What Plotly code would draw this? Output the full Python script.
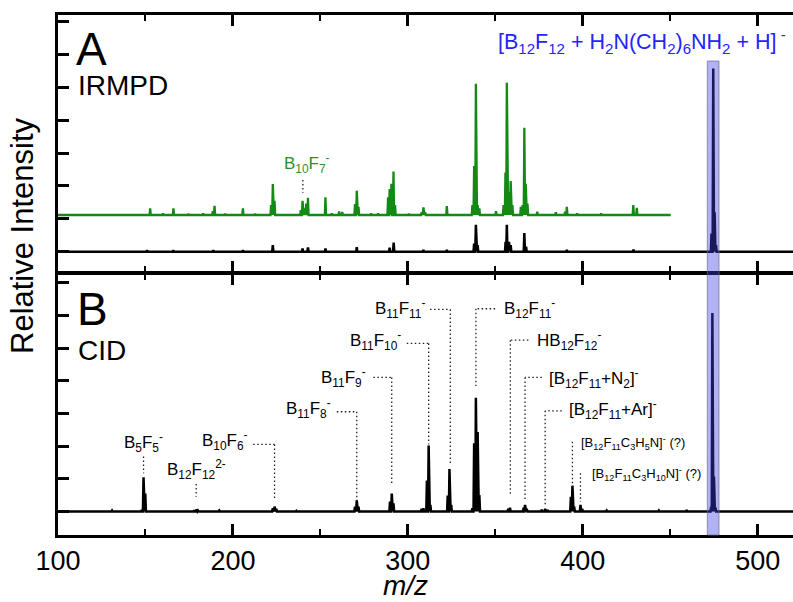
import plotly.graph_objects as go

# ---------------- data (m/z, relative intensity) ----------------
# Panel A, IRMPD: green trace (heights above its offset baseline)
irmpd_mz = [152.7, 160.0, 166.0, 174.6, 183.0, 188.5, 189.5, 195.6, 205.7, 212.7,
            221.8, 222.8, 223.8, 238.8, 239.8, 240.8, 241.9, 242.9, 252.9, 256.5,
            260.7, 262.5, 269.8, 270.8, 271.8, 279.0, 283.0, 288.7, 289.6, 290.6,
            291.8, 292.7, 300.6, 307.9, 308.9, 309.9, 322.3, 336.9, 337.9, 338.9,
            339.9, 340.9, 350.4, 354.7, 355.8, 356.6, 357.7, 358.8, 359.8, 364.6,
            365.6, 366.6, 367.4, 368.4, 374.0, 384.6, 389.9, 390.9, 396.8, 410.5,
            428.9, 430.9]
irmpd_int = [0.20, 0.05, 0.20, 0.04, 0.05, 0.12, 0.28, 0.04, 0.20, 0.04,
             0.30, 0.94, 0.43, 0.15, 0.43, 0.20, 0.35, 0.52, 0.54, 0.05,
             0.11, 0.09, 0.33, 0.74, 0.25, 0.05, 0.05, 0.54, 0.79, 0.95,
             1.32, 0.30, 0.04, 0.08, 0.23, 0.08, 0.27, 0.30, 1.49, 3.99,
             0.30, 0.20, 0.12, 0.30, 1.29, 4.02, 0.70, 1.03, 0.30, 0.25,
             0.30, 2.65, 0.95, 0.35, 0.10, 0.08, 0.10, 0.25, 0.05, 0.05,
             0.30, 0.22]
irmpd_offset = 1.115

# Panel A, black trace (precursor-normalised)
parentA_mz = [150.9, 165.9, 188.8, 205.7, 222.8, 239.8, 242.9, 252.9, 270.8, 289.6,
              291.9, 308.9, 322.3, 337.9, 338.9, 339.9, 355.9, 356.6, 357.8, 358.8,
              366.6, 367.6, 390.9, 429.0, 473.6, 474.6, 475.4, 476.2]
parentA_int = [0.04, 0.04, 0.04, 0.04, 0.20, 0.10, 0.13, 0.10, 0.14, 0.12,
               0.28, 0.05, 0.05, 0.25, 0.82, 0.20, 0.30, 0.82, 0.30, 0.20,
               0.57, 0.15, 0.05, 0.06, 0.55, 5.57, 1.20, 0.20]

# Panel B, CID
cid_mz = [130.9, 147.9, 148.9, 149.9, 177.8, 179.0, 180.0, 192.2, 222.8, 223.8,
          224.8, 236.3, 249.5, 269.8, 270.8, 271.8, 289.8, 290.8, 291.8, 307.9,
          308.9, 310.9, 311.9, 312.9, 322.8, 323.8, 324.8, 336.9, 337.9, 338.9,
          339.9, 340.9, 357.4, 358.4, 366.2, 367.0, 368.0, 376.5, 378.5, 380.0,
          393.2, 394.1, 395.1, 398.7, 399.7, 413.7, 428.0, 443.5, 459.4, 473.4,
          474.1, 475.0, 475.9]
cid_int = [0.03, 0.05, 1.05, 0.55, 0.04, 0.06, 0.03, 0.03, 0.10, 0.15,
           0.08, 0.02, 0.02, 0.15, 0.34, 0.15, 0.30, 0.55, 0.25, 0.08,
           0.10, 0.95, 2.02, 0.20, 0.49, 1.30, 0.20, 0.10, 2.09, 3.48,
           2.43, 0.50, 0.08, 0.12, 0.12, 0.20, 0.08, 0.06, 0.08, 0.05,
           0.45, 0.79, 0.15, 0.20, 0.08, 0.03, 0.02, 0.03, 0.05, 0.15,
           6.07, 1.07, 0.12]

# Peak assignments in panel B
cid_labels = ["B<sub>5</sub>F<sub>5</sub><sup>-</sup>",
              "B<sub>12</sub>F<sub>12</sub><sup>2-</sup>",
              "B<sub>10</sub>F<sub>6</sub><sup>-</sup>",
              "B<sub>11</sub>F<sub>8</sub><sup>-</sup>",
              "B<sub>11</sub>F<sub>9</sub><sup>-</sup>",
              "B<sub>11</sub>F<sub>10</sub><sup>-</sup>",
              "B<sub>11</sub>F<sub>11</sub><sup>-</sup>",
              "B<sub>12</sub>F<sub>11</sub><sup>-</sup>",
              "HB<sub>12</sub>F<sub>12</sub><sup>-</sup>",
              "[B<sub>12</sub>F<sub>11</sub>+N<sub>2</sub>]<sup>-</sup>",
              "[B<sub>12</sub>F<sub>11</sub>+Ar]<sup>-</sup>",
              "[B<sub>12</sub>F<sub>11</sub>C<sub>3</sub>H<sub>5</sub>N]<sup>-</sup> (?)",
              "[B<sub>12</sub>F<sub>11</sub>C<sub>3</sub>H<sub>10</sub>N]<sup>-</sup> (?)"]
cid_label_peak = [148.9, 179.0, 223.8, 270.8, 290.8, 311.9, 324.3, 338.9, 358.6,
                  367.0, 378.5, 394.1, 398.7]

irmpd_label = "B<sub>10</sub>F<sub>7</sub><sup>-</sup>"
irmpd_label_peak = 240.0
precursor_label = "[B<sub>12</sub>F<sub>12</sub> + H<sub>2</sub>N(CH<sub>2</sub>)<sub>6</sub>NH<sub>2</sub> + H]<sup> -</sup>"
precursor_window = [471.2, 477.9]

x_tick_step = 100
x_minor_step = 50

# ---------------- layout helpers ----------------
XMIN, XMAX = 100, 520.2
W, H = 793, 602
ML, MT, MB = 58, 15, 67
PW, PH = W - ML, H - MT - MB
FONT = "Liberation Sans, Arial, sans-serif"


def px_x(px):
    return (px - ML) / PW


def px_y(py):
    return (H - MB - py) / PH


def profile(mz, inten, base, xend, hw=0.35):
    xs, ys = [XMIN], [base]
    for m, v in sorted(zip(mz, inten)):
        xs += [m - hw, m, m + hw]
        ys += [base, base + v, base]
    xs.append(xend)
    ys.append(base)
    return xs, ys


fig = go.Figure()

gx, gy = profile(irmpd_mz, irmpd_int, irmpd_offset, 450.3)
fig.add_trace(go.Scatter(x=gx, y=gy, mode="lines", line=dict(color="#138a13", width=2.3),
                         xaxis="x", yaxis="y", hoverinfo="skip"))
ax_, ay_ = profile(parentA_mz, parentA_int, 0, XMAX)
fig.add_trace(go.Scatter(x=ax_, y=ay_, mode="lines", line=dict(color="black", width=2.5),
                         xaxis="x", yaxis="y", hoverinfo="skip"))
bx, by = profile(cid_mz, cid_int, 0, XMAX)
fig.add_trace(go.Scatter(x=bx, y=by, mode="lines", line=dict(color="black", width=2.5),
                         xaxis="x2", yaxis="y2", hoverinfo="skip"))

# panel A bottom spine is drawn below its domain, panel B top spine above its
# domain: place them so that both lines coincide around y = 273 px
A_bottom_px, B_top_px = 271.75, 274.25
rangeA = [-(A_bottom_px - 251.7) / 32.9, (251.7 - MT) / 32.9]
rangeB = [-(535 - 511.5) / 32.7, (511.5 - B_top_px) / 32.7]

xcommon = dict(range=[XMIN, XMAX], showgrid=False, zeroline=False, showline=True,
               linecolor="black", linewidth=2.5, mirror="ticks", ticks="inside",
               ticklen=11, tickwidth=2.5, tickcolor="black", tickmode="linear",
               tick0=0, dtick=x_tick_step,
               minor=dict(tickmode="linear", tick0=0, dtick=x_minor_step, ticks="inside",
                          ticklen=6, tickwidth=2, tickcolor="black"))
ycommon = dict(showgrid=False, zeroline=False, showline=True, linecolor="black",
               linewidth=2.5, mirror=False, ticks="inside", ticklen=11, tickwidth=2.5,
               tickcolor="black", tickmode="linear", tick0=0, dtick=1,
               showticklabels=False)
yright = dict(showgrid=False, zeroline=False, showline=False, side="right", ticks="inside",
              ticklen=3, tickwidth=3, tickcolor="black", tickmode="linear", tick0=0,
              dtick=2, showticklabels=False)

fig.update_layout(
    width=W, height=H, margin=dict(l=ML, r=0, t=MT, b=MB),
    paper_bgcolor="white", plot_bgcolor="white", showlegend=False,
    font=dict(family=FONT, color="black"),
    xaxis=dict(**xcommon, domain=[0, 1], anchor="y", showticklabels=False),
    yaxis=dict(**ycommon, domain=[px_y(A_bottom_px), 1], anchor="x", range=rangeA),
    xaxis2=dict(**xcommon, domain=[0, 1], anchor="y2", showticklabels=True,
                tickfont=dict(size=27, family=FONT)),
    yaxis2=dict(**ycommon, domain=[0, px_y(B_top_px)], anchor="x2", range=rangeB),
    yaxis3=dict(**yright, overlaying="y", anchor="x", range=rangeA),
    yaxis4=dict(**yright, overlaying="y2", anchor="x2", range=rangeB),
)

shapes = []
annos = []
DOT = "1.5px,2.5px"


def dline(x0, y0, x1, y1, xr="x2", yr="y2"):
    shapes.append(dict(type="line", xref=xr, yref=yr, x0=x0, y0=y0, x1=x1, y1=y1,
                       line=dict(color="#222", width=1.3, dash=DOT)))


def label(text, x, y, anchor, size=17, xr="x2", yr="y2", color="black"):
    annos.append(dict(text=text, x=x, y=y, xref=xr, yref=yr, xanchor=anchor,
                      yanchor="middle", showarrow=False,
                      font=dict(size=size, family=FONT, color=color)))


# label placements: (text x, text y, anchor, elbow x, elbow y, leader end y, text size)
place = [
    (148.9, 2.11, "center", None, 1.68, 1.17, 17),
    (179.4, 1.27, "center", None, 0.84, 0.45, 17),
    (210.0, 2.16, "right", 211.6, 2.05, 0.40, 17),
    (257.5, 3.16, "right", 259.4, 3.05, 0.27, 17),
    (277.5, 4.10, "right", 280.3, 4.10, 0.86, 17),
    (297.5, 5.24, "right", 299.4, 5.14, 2.05, 17),
    (310.9, 6.21, "right", 312.7, 6.18, 1.47, 17),
    (353.7, 6.22, "left", 349.9, 6.20, 3.84, 17),
    (372.7, 5.22, "left", 368.9, 5.24, 0.47, 17),
    (379.4, 4.08, "left", 376.6, 4.10, 0.35, 17),
    (390.9, 3.11, "left", 388.0, 3.08, 0.15, 17),
    (398.1, 2.09, "left", None, 2.13, 0.76, 13),
    (404.1, 1.15, "left", None, 1.17, 0.30, 13),
]
for text, pk, (tx, ty, anc, hx, ey, by_, fs) in zip(cid_labels, cid_label_peak, place):
    label(text, tx, ty, anc, size=fs)
    if hx is not None:
        dline(hx, ey, pk, ey)
    dline(pk, ey, pk, by_)

# IRMPD label
label(irmpd_label, 242.3, 2.67, "center", xr="x", yr="y", color="#2a922a")
dline(irmpd_label_peak, 2.18, irmpd_label_peak, 1.79, xr="x", yr="y")

# precursor window
shapes.append(dict(type="rect", xref="x", yref="paper", x0=precursor_window[0],
                   x1=precursor_window[1], y0=0, y1=px_y(61), layer="above",
                   fillcolor="rgba(60,60,225,0.40)",
                   line=dict(color="rgba(110,110,150,0.7)", width=1)))

annos.append(dict(text=precursor_label, x=px_x(642), y=px_y(41), xref="paper", yref="paper",
                  xanchor="center", yanchor="middle", showarrow=False,
                  font=dict(size=21.5, family=FONT, color="#2424ff")))

# panel letters and methods
for txt, px, py, fs in [("A", 74, 48.5, 46), ("IRMPD", 75.5, 86, 28),
                        ("B", 75, 308.5, 46), ("CID", 75.5, 350.5, 28)]:
    annos.append(dict(text=txt, x=px_x(px), y=px_y(py), xref="paper", yref="paper",
                      xanchor="left", yanchor="middle", showarrow=False,
                      font=dict(size=fs, family=FONT, color="black")))

# axis titles
annos.append(dict(text="Relative Intensity", x=px_x(22), y=px_y(236), xref="paper",
                  yref="paper", xanchor="center", yanchor="middle", textangle=-90,
                  showarrow=False, font=dict(size=31, family=FONT, color="black")))
annos.append(dict(text="<i>m/z</i>", x=px_x(405), y=px_y(585), xref="paper",
                  yref="paper", xanchor="center", yanchor="middle", showarrow=False,
                  font=dict(size=28, family=FONT, color="black")))

fig.update_layout(shapes=shapes, annotations=annos)
fig.write_html("out.html")
